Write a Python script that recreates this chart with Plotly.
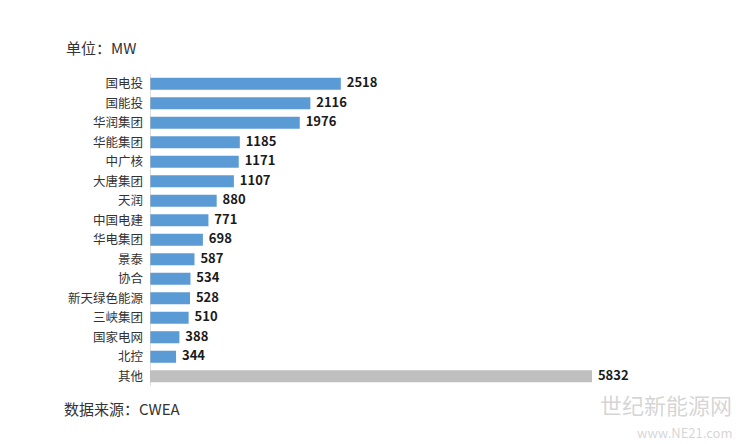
import plotly.graph_objects as go

companies = ["国电投", "国能投", "华润集团", "华能集团", "中广核", "大唐集团", "天润", "中国电建",
             "华电集团", "景泰", "协合", "新天绿色能源", "三峡集团", "国家电网", "北控", "其他"]
capacity = [2518, 2116, 1976, 1185, 1171, 1107, 880, 771, 698, 587, 534, 528, 510, 388, 344, 5832]
colors = ["#5b9bd5"] * 15 + ["#bfbfbf"]

fig = go.Figure()
fig.add_trace(go.Bar(
    y=companies, x=capacity, orientation="h",
    marker=dict(color=colors, line=dict(width=0)),
    width=0.62,
))
# value labels as a text trace so they are not shrunk
fig.add_trace(go.Scatter(
    y=companies, x=capacity, mode="text",
    text=["  " + str(v) for v in capacity], textposition="middle right",
    textfont=dict(family="Noto Sans CJK SC", size=13, color="#1a1a1a", weight="bold"),
    cliponaxis=False, hoverinfo="skip",
))

# page shows the figure offset by ~8px (body margin), so compensate
OFF = 8
W, H = 743, 444
l, r, t, b = 150 - OFF, 43 + OFF, 74 - OFF, 58 + OFF
fig.update_layout(
    width=W, height=H,
    margin=dict(l=l, r=r, t=t, b=b, autoexpand=False),
    paper_bgcolor="white", plot_bgcolor="white",
    showlegend=False,
    font=dict(family="Noto Sans CJK SC", size=13, color="#333333"),
    xaxis=dict(range=[0, 7257], visible=False),
    yaxis=dict(range=[15.5, -0.5], showline=False, automargin=False,
               ticks="", ticklabelstandoff=6, tickfont=dict(size=12.5, color="#333333")),
    shapes=[dict(type="line", xref="x", yref="paper", x0=0, x1=0, y0=0, y1=1,
                 line=dict(color="#bfbfbf", width=1))],
)

labels = [
    ("单位：MW", 64, 47, 15, "#333333", "left"),
    ("数据来源：CWEA", 62, 408, 15, "#333333", "left"),
    ("世纪新能源网", 734, 404, 22, "rgba(185,185,185,0.6)", "right"),
    ("www.NE21.com", 734, 432, 13, "rgba(185,185,185,0.6)", "right"),
]
for txt, px, py, size, col, anchor in labels:
    fig.add_annotation(text=txt, xref="paper", yref="paper",
                       x=(px - OFF - l) / (W - l - r), y=1 - (py - OFF - t) / (H - t - b),
                       showarrow=False, xanchor=anchor, yanchor="middle",
                       font=dict(size=size, color=col))

fig.write_html("out.html")
